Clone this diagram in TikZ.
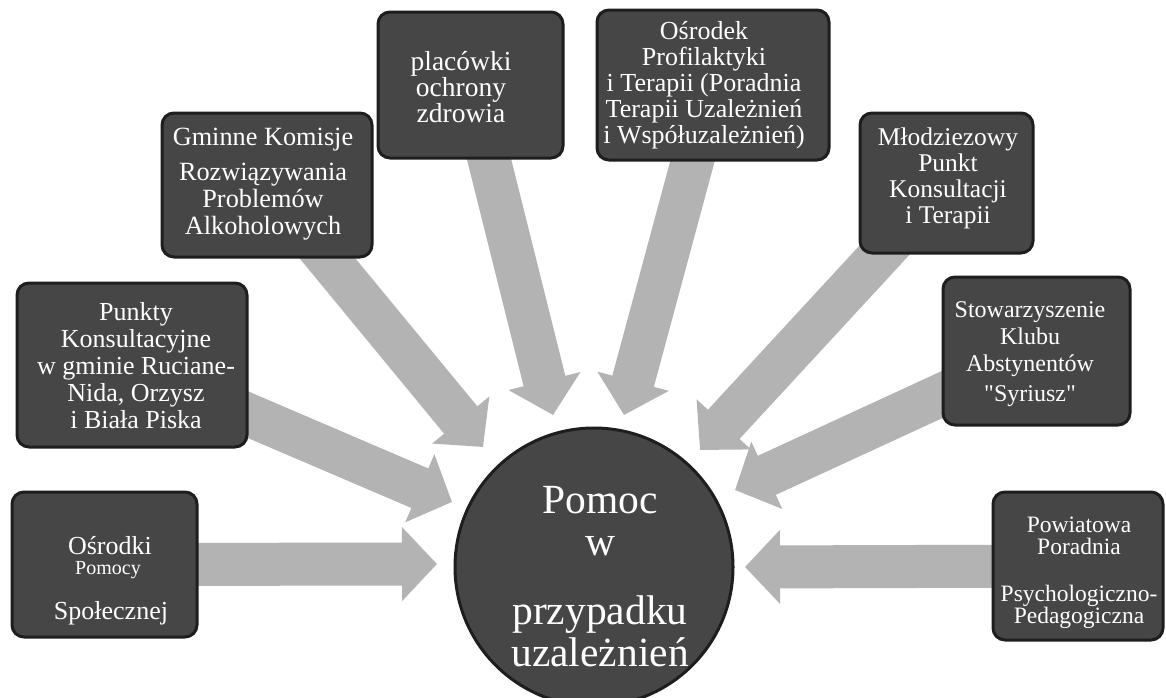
\documentclass[tikz,border=0pt]{standalone}
\usepackage{fontspec}
\setmainfont{Liberation Serif}
\usetikzlibrary{arrows.meta}
\pgfdeclarelayer{bg}
\pgfdeclarelayer{paper}
\pgfsetlayers{paper,bg,main}
\definecolor{boxfill}{HTML}{464646}
\definecolor{boxline}{HTML}{1E1E1E}
\definecolor{arrowgray}{HTML}{B3B3B3}
\begin{document}
\begin{tikzpicture}[x=1pt,y=-1pt,
  box/.style={draw=boxline, fill=boxfill, line width=3pt, rounded corners=12pt, inner sep=0pt},
  boxtext/.style={text=white, align=center, inner sep=0pt, font=\fontsize{25}{27}\selectfont},
  bigarrow/.style={draw=arrowgray, line width=43pt, -{Triangle[width=72pt,length=35pt]}}]
\begin{pgfonlayer}{paper}
\fill[white] (0,0) rectangle (1166,697);
\end{pgfonlayer}
\useasboundingbox (0,0) rectangle (1166,697);

% hub
\node[circle, draw=boxline, fill=boxfill, line width=3pt, minimum size=278pt, inner sep=0pt] (hub) at (594,567) {};
\node[text=white, align=center, inner sep=0pt, font=\fontsize{41.5}{42}\selectfont] (hubtext) at (600,577) {Pomoc\\w\\[27pt]przypadku\\uzależnień};

% boxes
\node[box, minimum width=185pt, minimum height=145pt] (b1) at (104.5,564.5) {};
\node[boxtext, font=\fontsize{26}{27}\selectfont] (t1a) at (110,546) {Ośrodki};
\node[boxtext, font=\fontsize{20}{21}\selectfont] (t1b) at (108,570) {Pomocy};
\node[boxtext, font=\fontsize{26}{27}\selectfont] (t1c) at (111,613) {Społecznej};

\node[box, minimum width=230pt, minimum height=164pt] (b2) at (132,365) {};
\node[boxtext, font=\fontsize{26}{27}\selectfont] (t2) at (136,366) {Punkty\\Konsultacyjne\\w gminie Ruciane-\\Nida, Orzysz\\i Biała Piska};

\node[box, minimum width=210pt, minimum height=144pt] (b3) at (267,185) {};
\node[boxtext, font=\fontsize{26.3}{27}\selectfont] (t3) at (263,184) {Gminne Komisje\\[8pt]Rozwiązywania\\Problemów\\Alkoholowych};

\node[box, minimum width=185pt, minimum height=146pt] (b4) at (470.5,85) {};
\node[boxtext, font=\fontsize{27.5}{26}\selectfont] (t4) at (461,87) {placówki\\ochrony\\zdrowia};

\node[box, minimum width=232pt, minimum height=150pt] (b5) at (713,85) {};
\node[boxtext, font=\fontsize{26}{26}\selectfont] (t5) at (704,85) {Ośrodek\\Profilaktyki\\i Terapii (Poradnia\\Terapii Uzależnień\\i Współuzależnień)};

\node[box, minimum width=173pt, minimum height=140pt] (b6) at (946.5,183) {};
\node[boxtext, font=\fontsize{25.5}{26}\selectfont] (t6) at (948,178) {Młodziezowy\\Punkt\\Konsultacji\\i Terapii};

\node[box, minimum width=187pt, minimum height=148pt] (b7) at (1036.5,351) {};
\node[boxtext, font=\fontsize{24}{27}\selectfont] (t7) at (1030,354) {Stowarzyszenie\\Klubu\\Abstynentów\\[3pt]\textquotedbl Syriusz\textquotedbl};

\node[box, minimum width=170pt, minimum height=148pt] (b8) at (1078,566) {};
\node[boxtext, font=\fontsize{23.5}{22}\selectfont] (t8) at (1079,573) {Powiatowa\\Poradnia\\[25pt]Psychologiczno-\\Pedagogiczna};

% arrow tips
\coordinate (p1) at (437,564);
\coordinate (p2) at (452,502);
\coordinate (p3) at (483,447);
\coordinate (p4) at (553,415);
\coordinate (p5) at (624,415);
\coordinate (p6) at (700,450);
\coordinate (p7) at (735,490);
\coordinate (p8) at (745,567);

\begin{pgfonlayer}{bg}
\draw[bigarrow] (b1.center) -- (p1);
\draw[bigarrow] (b2.center) -- (p2);
\draw[bigarrow] (b3.center) -- (p3);
\draw[bigarrow] (b4.center) -- (p4);
\draw[bigarrow] (b5.center) -- (p5);
\draw[bigarrow] (b6.center) -- (p6);
\draw[bigarrow] (b7.center) -- (p7);
\draw[bigarrow] (b8.center) -- (p8);
\end{pgfonlayer}
\end{tikzpicture}
\end{document}
